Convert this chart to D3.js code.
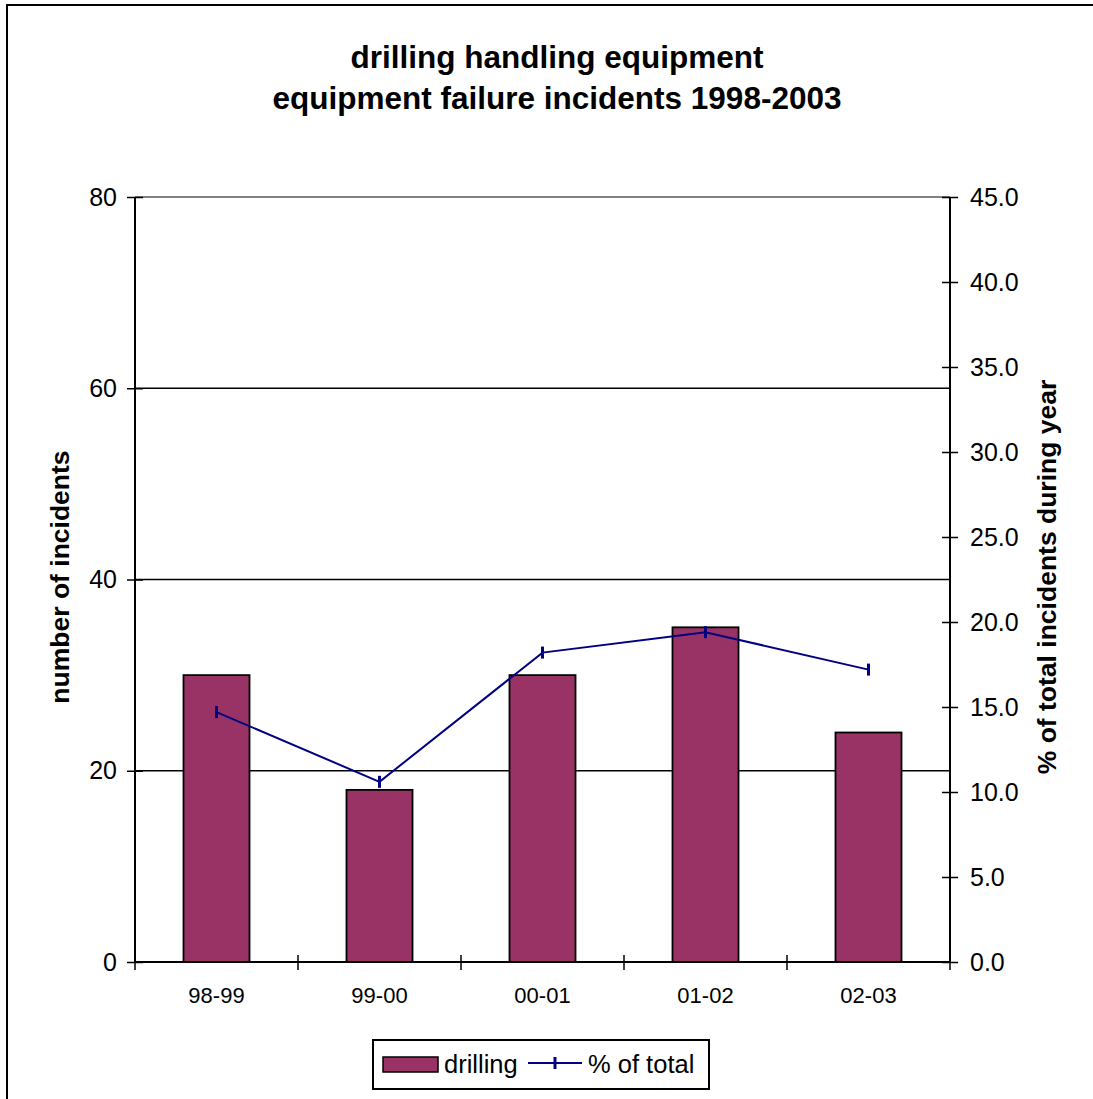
<!DOCTYPE html>
<html><head><meta charset="utf-8">
<script src="https://cdn.jsdelivr.net/npm/d3@7"></script>
<style>body{margin:0;background:#fff}svg{display:block}text{font-family:"Liberation Sans",Arial,sans-serif}</style>
</head><body><svg id="c" width="1093" height="1099"></svg>
<script>
const categories = ["98-99","99-00","00-01","01-02","02-03"];
const drilling = [30,18,30,35,24];
const pctTotal = [14.7,10.6,18.2,19.4,17.2];
const leftTicks = [0,20,40,60,80];
const rightTicks = [0,5,10,15,20,25,30,35,40,45];
const titleLines = ["drilling handling equipment","equipment failure incidents 1998-2003"];

const svg = d3.select("#c");
const L=135,R=950,T=197,B=962;
svg.append("rect").attr("x",7).attr("y",5).attr("width",1093).attr("height",1110).attr("fill","#fff").attr("stroke","#000").attr("stroke-width",2);

titleLines.forEach((t,i)=>svg.append("text").attr("x",557).attr("y",68+i*41).attr("text-anchor","middle")
  .attr("font-size",31.5).attr("font-weight","bold").text(t));

const x = d3.scaleBand().domain(categories).range([L,R]).paddingInner(0.595).paddingOuter(0.2975);
const xb = d3.scaleBand().domain(categories).range([L,R]);
const yL = d3.scaleLinear().domain([0,80]).range([B,T]);
const yR = d3.scaleLinear().domain([0,45]).range([B,T]);

// gridlines
leftTicks.forEach(v=>{ if(v>0) svg.append("line").attr("x1",L).attr("x2",R).attr("y1",yL(v)).attr("y2",yL(v))
  .attr("stroke", v===80?"#808080":"#000").attr("stroke-width",v===80?2:1.6); });

// bars
svg.append("g").selectAll("rect").data(drilling).join("rect")
  .attr("x",(d,i)=>x(categories[i])).attr("width",x.bandwidth())
  .attr("y",d=>yL(d)).attr("height",d=>B-yL(d))
  .attr("fill","#993366").attr("stroke","#000").attr("stroke-width",1.8);

// left axis
const gl = svg.append("g").attr("transform",`translate(${L},0)`)
  .call(d3.axisLeft(yL).tickValues(leftTicks).tickSize(8).tickPadding(10).tickFormat(d3.format("d")));
gl.select(".domain").attr("stroke","#000").attr("stroke-width",2).attr("d",`M0,${T}V${B}`);
gl.selectAll(".tick line").attr("x2",-8).attr("x1",8).attr("stroke-width",1.5);
gl.selectAll(".tick text").attr("font-size",25).attr("font-family","Liberation Sans, Arial, sans-serif").attr("x",-18);

// right axis
const gr = svg.append("g").attr("transform",`translate(${R},0)`)
  .call(d3.axisRight(yR).tickValues(rightTicks).tickSize(8).tickPadding(10).tickFormat(d3.format(".1f")));
gr.select(".domain").attr("stroke","#000").attr("stroke-width",2).attr("d",`M0,${T}V${B}`);
gr.selectAll(".tick line").attr("x1",-8).attr("x2",8).attr("stroke-width",1.5);
gr.selectAll(".tick text").attr("font-size",25).attr("font-family","Liberation Sans, Arial, sans-serif").attr("x",20);

// bottom axis
const gb = svg.append("g").attr("transform",`translate(0,${B})`)
  .call(d3.axisBottom(xb).tickSize(0).tickPadding(25));
gb.select(".domain").attr("stroke","#000").attr("stroke-width",2).attr("d",`M${L},0H${R}`);
gb.selectAll(".tick text").attr("font-size",22).attr("font-family","Liberation Sans, Arial, sans-serif");
const bounds = categories.map(c=>xb(c)).concat([R]);
svg.append("g").selectAll("line").data(bounds).join("line")
  .attr("x1",d=>d).attr("x2",d=>d).attr("y1",B-7).attr("y2",B+8).attr("stroke","#000").attr("stroke-width",1.5);

// line series
const cx = i=>xb(categories[i])+xb.bandwidth()/2;
svg.append("path").datum(pctTotal).attr("fill","none").attr("stroke","#000080").attr("stroke-width",2)
  .attr("d",d3.line().x((d,i)=>cx(i)).y(d=>yR(d)));
svg.append("g").selectAll("line").data(pctTotal).join("line")
  .attr("x1",(d,i)=>cx(i)).attr("x2",(d,i)=>cx(i)).attr("y1",d=>yR(d)-6).attr("y2",d=>yR(d)+6)
  .attr("stroke","#000080").attr("stroke-width",3);

// axis titles
svg.append("text").attr("transform","translate(69,577) rotate(-90)").attr("text-anchor","middle")
  .attr("font-size",26.5).attr("font-weight","bold").text("number of incidents");
svg.append("text").attr("transform","translate(1056,577) rotate(-90)").attr("text-anchor","middle")
  .attr("font-size",26.5).attr("font-weight","bold").text("% of total incidents during year");

// legend
const lg = svg.append("g");
lg.append("rect").attr("x",373).attr("y",1040).attr("width",336).attr("height",49).attr("fill","#fff").attr("stroke","#000").attr("stroke-width",2);
lg.append("rect").attr("x",383).attr("y",1057).attr("width",55).attr("height",15).attr("fill","#993366").attr("stroke","#000").attr("stroke-width",1.5);
lg.append("text").attr("x",444).attr("y",1073).attr("font-size",25.5).text("drilling");
lg.append("line").attr("x1",528).attr("x2",582).attr("y1",1063).attr("y2",1063).attr("stroke","#000080").attr("stroke-width",2);
lg.append("line").attr("x1",555).attr("x2",555).attr("y1",1057).attr("y2",1069).attr("stroke","#000080").attr("stroke-width",3);
lg.append("text").attr("x",588).attr("y",1073).attr("font-size",25.5).text("% of total");
</script></body></html>
